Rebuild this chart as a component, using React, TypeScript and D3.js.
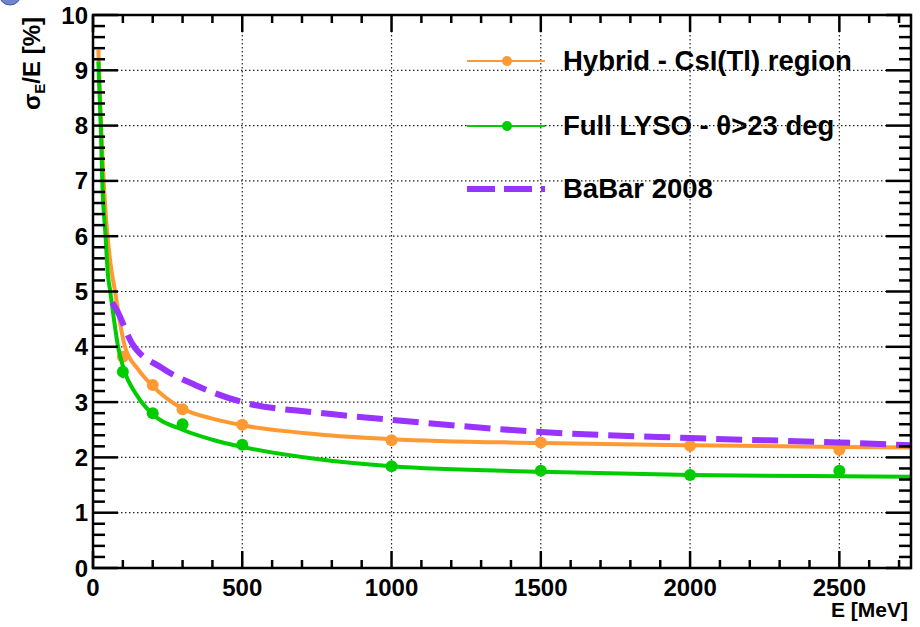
import React from 'react';
import * as d3 from 'd3';

// measured points (E in MeV, resolution in %)
const pointE = [100, 200, 300, 500, 1000, 1500, 2000, 2500];
const hybridVals = [3.82, 3.31, 2.87, 2.59, 2.31, 2.27, 2.21, 2.14];
const hybridErr = [0.1, 0.08, 0.05, 0.04, 0.04, 0.04, 0.04, 0.07];
const lysoVals = [3.55, 2.8, 2.6, 2.23, 1.84, 1.76, 1.68, 1.76];
const lysoErr = [0.12, 0.05, 0.07, 0.06, 0.04, 0.04, 0.04, 0.07];

// fitted curves
const hybridFitE = [18, 25, 32, 44, 60, 74, 90, 107, 150, 196, 297, 400, 500, 750, 1000, 1500, 2000, 2500, 2740];
const hybridFitV = [9.37, 8.3, 7.4, 6.3, 5.45, 5.0, 4.45, 4.0, 3.6, 3.31, 2.89, 2.7, 2.58, 2.42, 2.33, 2.26, 2.22, 2.19, 2.18];
const lysoFitE = [18, 26, 31, 42, 50, 57, 70, 84, 100, 150, 196, 300, 400, 500, 750, 1000, 1500, 2000, 2500, 2740];
const lysoFitV = [9.16, 8.0, 7.0, 6.0, 5.3, 5.03, 4.5, 4.0, 3.65, 3.1, 2.8, 2.5, 2.32, 2.19, 1.97, 1.84, 1.74, 1.68, 1.66, 1.65];
const babarE = [64, 79, 130, 230, 342, 500, 750, 1000, 1500, 2000, 2500, 2740];
const babarV = [4.8, 4.67, 4.07, 3.62, 3.31, 3.0, 2.81, 2.68, 2.46, 2.35, 2.27, 2.22];

const xTicks = [0, 500, 1000, 1500, 2000, 2500];
const yTicks = [0, 1, 2, 3, 4, 5, 6, 7, 8, 9, 10];

const ORANGE = '#ff9933';
const GREEN = '#00cc00';
const VIOLET = '#9933ff';
const FONT = '"Liberation Sans", Arial, sans-serif';

const left = 93, right = 911, top = 15, bottom = 568;

export default function App() {
  const x = d3.scaleLinear().domain([0, 2740]).range([left, right]);
  const y = d3.scaleLinear().domain([0, 10]).range([bottom, top]);

  const line = d3.line<[number, number]>()
    .x(d => x(d[0]))
    .y(d => y(d[1]))
    .curve(d3.curveMonotoneX);

  const hybridFit = line(hybridFitE.map((e, i) => [e, hybridFitV[i]]));
  const lysoFit = line(lysoFitE.map((e, i) => [e, lysoFitV[i]]));
  const babarFit = line(babarE.map((e, i) => [e, babarV[i]]));

  const xMinor = d3.range(0, 2741, 100).filter(v => v % 500 !== 0);
  const yMinor = d3.range(0, 50).map(i => i * 0.2).filter((v, i) => i % 5 !== 0);

  const points = (vals: number[], errs: number[], color: string) =>
    pointE.map((e, i) => (
      <g key={color + e}>
        <line x1={x(e)} x2={x(e)} y1={y(vals[i] - errs[i])} y2={y(vals[i] + errs[i])}
          stroke={color} strokeWidth={2.5} />
        <circle cx={x(e)} cy={y(vals[i])} r={6} fill={color} />
      </g>
    ));

  return (
    <svg width={920} height={627} style={{ position: 'absolute', left: 0, top: 0, background: '#fff' }}
      fontFamily={FONT} fontWeight="bold">
      <defs>
        <clipPath id="plot">
          <rect x={left} y={top} width={right - left} height={bottom - top} />
        </clipPath>
      </defs>
      <rect width={920} height={627} fill="#fff" />
      <circle cx={10} cy={-6} r={11} fill="#6f86cf" stroke="#3d56a8" strokeWidth={1} />

      {/* grid */}
      {xTicks.filter(v => v > 0).map(v => (
        <line key={'gx' + v} x1={x(v)} x2={x(v)} y1={top} y2={bottom}
          stroke="#222" strokeWidth={1.2} strokeDasharray="1.5,2.5" />
      ))}
      {yTicks.filter(v => v > 0 && v < 10).map(v => (
        <line key={'gy' + v} x1={left} x2={right} y1={y(v)} y2={y(v)}
          stroke="#222" strokeWidth={1.2} strokeDasharray="1.5,2.5" />
      ))}

      {/* curves and points */}
      <g clipPath="url(#plot)">
        <path d={hybridFit ?? ''} fill="none" stroke={ORANGE} strokeWidth={4} />
        {points(hybridVals, hybridErr, ORANGE)}
        <path d={lysoFit ?? ''} fill="none" stroke={GREEN} strokeWidth={4} />
        {points(lysoVals, lysoErr, GREEN)}
        <path d={babarFit ?? ''} fill="none" stroke={VIOLET} strokeWidth={6} strokeDasharray="26,10" />
      </g>

      {/* frame and ticks */}
      <rect x={left} y={top} width={right - left} height={bottom - top} fill="none" stroke="#000" strokeWidth={2.5} />
      {xTicks.map(v => (
        <g key={'tx' + v} stroke="#000" strokeWidth={2.5}>
          <line x1={x(v)} x2={x(v)} y1={bottom} y2={bottom - 17} />
          <line x1={x(v)} x2={x(v)} y1={top} y2={top + 17} />
        </g>
      ))}
      {xMinor.map(v => (
        <g key={'mx' + v} stroke="#000" strokeWidth={2.5}>
          <line x1={x(v)} x2={x(v)} y1={bottom} y2={bottom - 8} />
          <line x1={x(v)} x2={x(v)} y1={top} y2={top + 8} />
        </g>
      ))}
      {yTicks.map(v => (
        <g key={'ty' + v} stroke="#000" strokeWidth={2.5}>
          <line x1={left} x2={left + 25} y1={y(v)} y2={y(v)} />
          <line x1={right} x2={right - 25} y1={y(v)} y2={y(v)} />
        </g>
      ))}
      {yMinor.map(v => (
        <g key={'my' + v} stroke="#000" strokeWidth={2.5}>
          <line x1={left} x2={left + 12} y1={y(v)} y2={y(v)} />
          <line x1={right} x2={right - 12} y1={y(v)} y2={y(v)} />
        </g>
      ))}

      {/* tick labels */}
      {xTicks.map(v => (
        <text key={'lx' + v} x={x(v)} y={bottom + 28} textAnchor="middle" fontSize={24}>{v}</text>
      ))}
      {yTicks.map(v => (
        <text key={'ly' + v} x={left - 5} y={y(v) + 8.5} textAnchor="end" fontSize={24}>{v}</text>
      ))}

      {/* axis titles */}
      <text x={908} y={617} textAnchor="end" fontSize={21}>E [MeV]</text>
      <text transform="translate(40,17) rotate(-90)" textAnchor="end" fontSize={24}>
        σ<tspan fontSize={15} dy={5}>E</tspan><tspan dy={-5}>/E [%]</tspan>
      </text>

      {/* legend */}
      <g fontSize={27.5}>
        <line x1={467} x2={545} y1={61} y2={61} stroke={ORANGE} strokeWidth={2} />
        <circle cx={507} cy={61} r={5} fill={ORANGE} />
        <text x={563} y={70}>Hybrid - CsI(Tl) region</text>
        <line x1={467} x2={545} y1={126} y2={126} stroke={GREEN} strokeWidth={2} />
        <circle cx={507} cy={126} r={5} fill={GREEN} />
        <text x={563} y={135}>Full LYSO - θ&gt;23 deg</text>
        <line x1={467} x2={545} y1={189} y2={189} stroke={VIOLET} strokeWidth={6} strokeDasharray="28,9" />
        <text x={563} y={198}>BaBar 2008</text>
      </g>
    </svg>
  );
}
